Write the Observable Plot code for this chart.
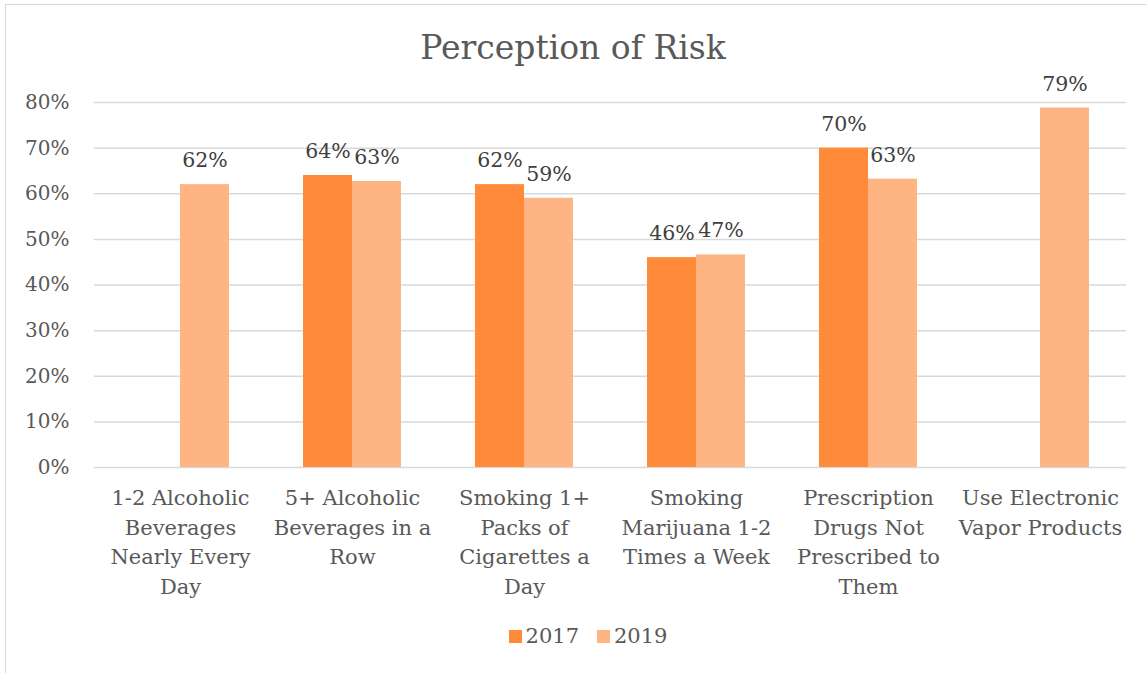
<!DOCTYPE html>
<html>
<head>
<meta charset="utf-8">
<script src="https://cdn.jsdelivr.net/npm/d3@7"></script>
<script src="https://cdn.jsdelivr.net/npm/@observablehq/plot@0.6"></script>
<style>
  html, body { margin: 0; padding: 0; background: #fff; }
  body { width: 1146px; height: 673px; position: relative; overflow: hidden; font-family: "DejaVu Serif", serif; }
  #border { position: absolute; left: 5px; top: 4px; width: 1150px; height: 690px; border: 1.5px solid #d9d9d9; box-sizing: border-box; }
  #title { position: absolute; left: 0; width: 1146px; top: 27px; text-align: center; font-size: 33px; color: #595959; line-height: 42px; }
  #chart { position: absolute; left: 0; top: 0; }
  #legend { position: absolute; left: 0; width: 1146px; box-sizing: border-box; padding-left: 30px; top: 622px; display: flex; justify-content: center; gap: 18px; font-size: 21px; color: #595959; line-height: 28px; }
  .item { display: flex; align-items: center; gap: 4px; }
  .sw { width: 13px; height: 13px; display: inline-block; }
  #chart svg text { font-family: "DejaVu Serif", serif; }
</style>
</head>
<body>
<div id="border"></div>
<div id="title">Perception of Risk</div>
<div id="chart"></div>
<div id="legend"></div>
<script>
const categories = [
  "1-2 Alcoholic Beverages Nearly Every Day",
  "5+ Alcoholic Beverages in a Row",
  "Smoking 1+ Packs of Cigarettes a Day",
  "Smoking Marijuana 1-2 Times a Week",
  "Prescription Drugs Not Prescribed to Them",
  "Use Electronic Vapor Products"
];
const tickLabels = [
  "1-2 Alcoholic\nBeverages\nNearly Every\nDay",
  "5+ Alcoholic\nBeverages in a\nRow",
  "Smoking 1+\nPacks of\nCigarettes a\nDay",
  "Smoking\nMarijuana 1-2\nTimes a Week",
  "Prescription\nDrugs Not\nPrescribed to\nThem",
  "Use Electronic\nVapor Products"
];
const years = ["2017", "2019"];
const values2017 = [null, 64, 62, 46, 70, null];
const values2019 = [62, 62.7, 59, 46.6, 63.2, 78.8];
const yTicks = [0, 10, 20, 30, 40, 50, 60, 70, 80];
const colors = ["#FF8A3A", "#FFB483"];
const FONT = '"DejaVu Serif", serif';

const data = [];
categories.forEach((c, i) => {
  if (values2017[i] != null) data.push({cat: c, year: "2017", v: values2017[i]});
  if (values2019[i] != null) data.push({cat: c, year: "2019", v: values2019[i]});
});
const labelOf = new Map(categories.map((c, i) => [c, tickLabels[i]]));

const chart = Plot.plot({
  width: 1146,
  height: 610,
  marginLeft: 92,
  marginRight: 18,
  marginTop: 102,
  marginBottom: 143,
  style: {fontFamily: FONT, fontSize: "20px", color: "#595959", background: "transparent", overflow: "visible"},
  fx: {domain: categories, paddingInner: 0, paddingOuter: 0, label: null, axis: null},
  x: {domain: years, paddingInner: 0, paddingOuter: 0.745, axis: null},
  y: {domain: [0, 80], label: null, axis: null},
  color: {domain: years, range: colors},
  marks: [
    Plot.ruleY(yTicks, {stroke: "#d9d9d9", strokeWidth: 1.5}),
    Plot.axisY({ticks: yTicks, tickFormat: d => d + "%", tickSize: 0, tickPadding: 25, label: null, fill: "#595959", fontFamily: FONT, fontSize: 20, facetAnchor: "left"}),
    Plot.axisFx({anchor: "bottom", tickFormat: c => labelOf.get(c), tickSize: 0, tickPadding: 17, lineHeight: 1.4, label: null, fill: "#595959", fontFamily: FONT, fontSize: 21}),
    Plot.barY(data, {fx: "cat", x: "year", y: "v", fill: "year"}),
    Plot.text(data, {fx: "cat", x: "year", y: "v", text: d => Math.round(d.v) + "%", dy: -24, fill: "#404040", fontFamily: FONT, fontSize: 20.5})
  ]
});
document.getElementById("chart").appendChild(chart);

const legend = document.getElementById("legend");
years.forEach((y, i) => {
  const item = document.createElement("div");
  item.className = "item";
  const sw = document.createElement("span");
  sw.className = "sw";
  sw.style.background = colors[i];
  const t = document.createElement("span");
  t.textContent = y;
  item.appendChild(sw);
  item.appendChild(t);
  legend.appendChild(item);
});
</script>
</body>
</html>
